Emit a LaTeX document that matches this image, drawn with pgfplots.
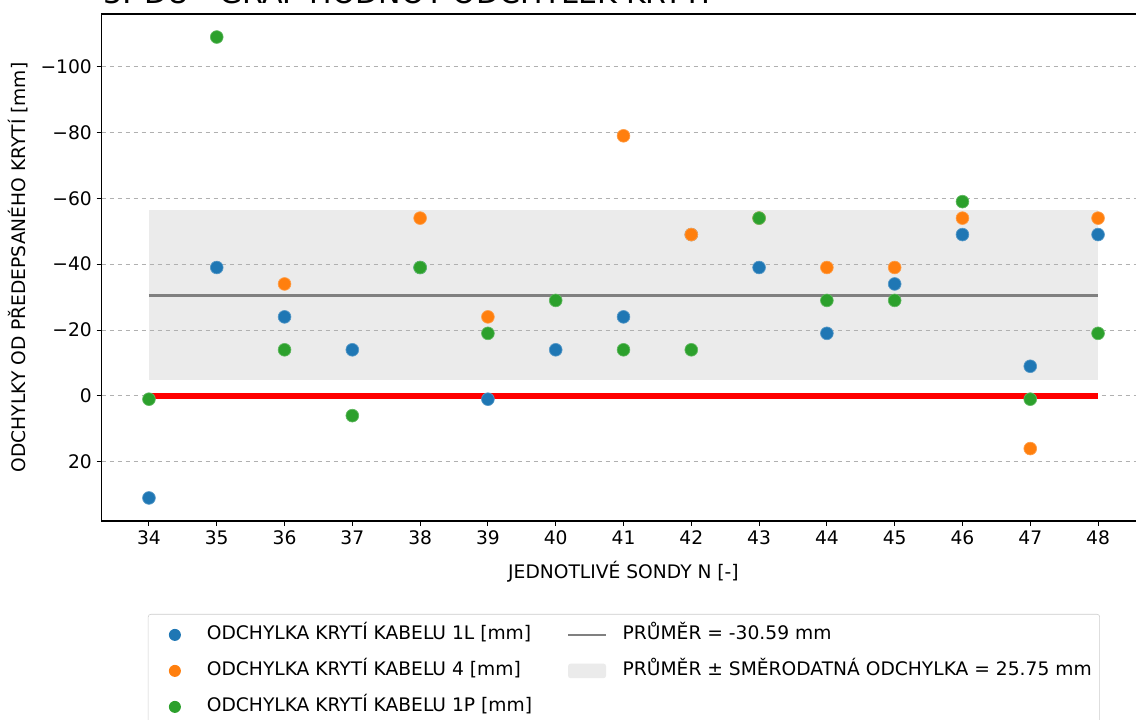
\documentclass[border=0pt]{standalone}
\usepackage{fontspec}
\setmainfont{DejaVu Sans}
\usepackage{pgfplots}
\pgfplotsset{compat=1.18}

\definecolor{c1}{HTML}{1F77B4}
\definecolor{c2}{HTML}{FF7F0E}
\definecolor{c3}{HTML}{2CA02C}
\definecolor{band}{HTML}{EBEBEB}
\definecolor{gridc}{HTML}{B0B0B0}
\newcommand\fs{\fontsize{14}{16.8}\selectfont}

\pgfplotsset{
  dot/.style={only marks, mark=*, mark size=4.8pt, mark options={fill=#1, draw=#1!75!white, line width=0.5pt}},
}

\begin{document}
\begin{tikzpicture}
\begin{axis}[
    set layers,
    scale only axis,
    width=783pt, height=380.25pt,
    xmin=33.3, xmax=48.7,
    ymin=-116, ymax=38,
    y dir=reverse,
    xtick={34,35,...,48},
    ytick={-100,-80,-60,-40,-20,0,20},
    yticklabels={−100,−80,−60,−40,−20,0,20},
    xtick pos=left, ytick pos=left,
    tick align=outside,
    major tick length=3.75pt,
    tick style={black, line width=0.8pt},
    axis line style={line width=0.9pt},
    ymajorgrids,
    grid style={gridc, dashed, line width=0.6pt},
    ticklabel style={font=\fs},
    /pgf/number format/assume math mode=true,
    xlabel={JEDNOTLIVÉ SONDY N [-]},
    ylabel={ODCHYLKY OD PŘEDEPSANÉHO KRYTÍ [mm]},
    every axis x label/.style={at={(axis description cs:0.5,-0.1006)}, anchor=center, font=\fs},
    every axis y label/.style={at={(axis description cs:-0.08,0.5)}, anchor=center, rotate=90, font=\fs},
    legend columns=2,
    legend cell align=left,
    legend style={at={(axis description cs:0.0445,-0.1834)}, anchor=north west,
        draw=gray!40, rounded corners=2pt, font=\fs, inner xsep=4pt, inner ysep=2pt,
        nodes={inner ysep=7pt, text height=10pt, text depth=3pt},
        /tikz/every even column/.append style={column sep=24pt}},
]

% pas prumer +- smerodatna odchylka
\addplot[fill=band, draw=none, on layer=axis background, forget plot]
  coordinates {(34,-56.34) (48,-56.34) (48,-4.84) (34,-4.84)} -- cycle;

% prumer
\addplot[gray, line width=2pt, forget plot] coordinates {(34,-30.59) (48,-30.59)};
% predepsane kryti
\addplot[red, line width=4.5pt, forget plot] coordinates {(34,0) (48,0)};

% kabel 1L
\addplot[dot=c1, forget plot] coordinates {
  (34,31) (35,-39) (36,-24) (37,-14) (38,-39) (39,1) (40,-14) (41,-24)
  (42,-49) (43,-39) (44,-19) (45,-34) (46,-49) (47,-9) (48,-49)};
% kabel 4
\addplot[dot=c2, forget plot] coordinates {
  (36,-34) (38,-54) (39,-24) (41,-79) (42,-49) (43,-54) (44,-39)
  (45,-39) (46,-54) (47,16) (48,-54)};
% kabel 1P
\addplot[dot=c3, forget plot] coordinates {
  (34,1) (35,-109) (36,-14) (37,6) (38,-39) (39,-19) (40,-29) (41,-14)
  (42,-14) (43,-54) (44,-29) (45,-29) (46,-59) (47,1) (48,-19)};

\addlegendimage{legend image code/.code={\path[draw=none] (0pt,-5pt) rectangle (38pt,5pt); \path[draw=none, fill=c1] (16pt,0pt) circle (4.5pt);}}
\addlegendentry{ODCHYLKA KRYTÍ KABELU 1L [mm]}
\addlegendimage{legend image code/.code={\path[draw=none] (0pt,-5pt) rectangle (39pt,5pt); \draw[gray, line width=2pt] (0pt,0pt) -- (28.5pt,0pt);}}
\addlegendentry{PRŮMĚR = -30.59 mm}
\addlegendimage{legend image code/.code={\path[draw=none] (0pt,-5pt) rectangle (38pt,5pt); \path[draw=none, fill=c2] (16pt,0pt) circle (4.5pt);}}
\addlegendentry{ODCHYLKA KRYTÍ KABELU 4 [mm]}
\addlegendimage{legend image code/.code={\path[draw=none] (0pt,-5pt) rectangle (39pt,5pt); \path[draw=none, fill=band] (0pt,-5.5pt) rectangle (28.5pt,5.5pt);}}
\addlegendentry{PRŮMĚR ± SMĚRODATNÁ ODCHYLKA = 25.75 mm}
\addlegendimage{legend image code/.code={\path[draw=none] (0pt,-5pt) rectangle (38pt,5pt); \path[draw=none, fill=c3] (16pt,0pt) circle (4.5pt);}}
\addlegendentry{ODCHYLKA KRYTÍ KABELU 1P [mm]}
\end{axis}
\node[anchor=base west, inner sep=0pt, font=\fontsize{22.5}{27}\selectfont] at (1.1pt,387.75pt) {3. DU - GRAF HODNOT ODCHYLEK KRYTÍ};
\pgfresetboundingbox
\useasboundingbox (-76.125pt,-149.25pt) rectangle (775.875pt,390.75pt);
\end{tikzpicture}
\end{document}
